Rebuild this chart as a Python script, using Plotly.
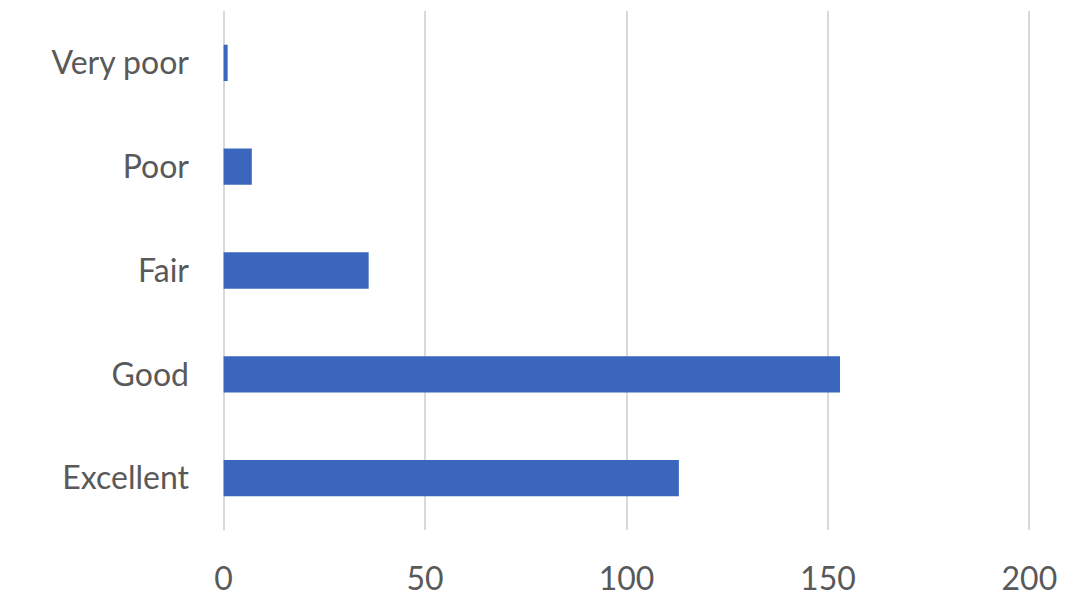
import plotly.graph_objects as go

categories = ["Excellent", "Good", "Fair", "Poor", "Very poor"]
values = [113, 153, 36, 7, 1]
x_ticks = [0, 50, 100, 150, 200]

fig = go.Figure(go.Bar(
    x=values, y=categories, orientation="h",
    marker=dict(color="#3A67BD", line=dict(width=0)),
))

fig.update_layout(
    width=1074, height=605,
    margin=dict(l=214, r=51, t=3, b=83),
    paper_bgcolor="white", plot_bgcolor="white",
    bargap=0.65,
    showlegend=False,
    font=dict(family="Lato, 'Open Sans', sans-serif", size=32, color="#595959"),
)
fig.update_xaxes(
    range=[-0.4, 200.4], tickvals=x_ticks, ticktext=[str(t) for t in x_ticks],
    showgrid=True, gridcolor="#D9D9D9", gridwidth=2,
    zeroline=False, showline=False, automargin=False,
    ticks="", ticklabelstandoff=27,
)
fig.update_yaxes(
    categoryorder="array", categoryarray=categories,
    showgrid=False, zeroline=False, showline=False, automargin=False,
    ticks="", ticklabelstandoff=32,
)

fig.write_html("out.html")
